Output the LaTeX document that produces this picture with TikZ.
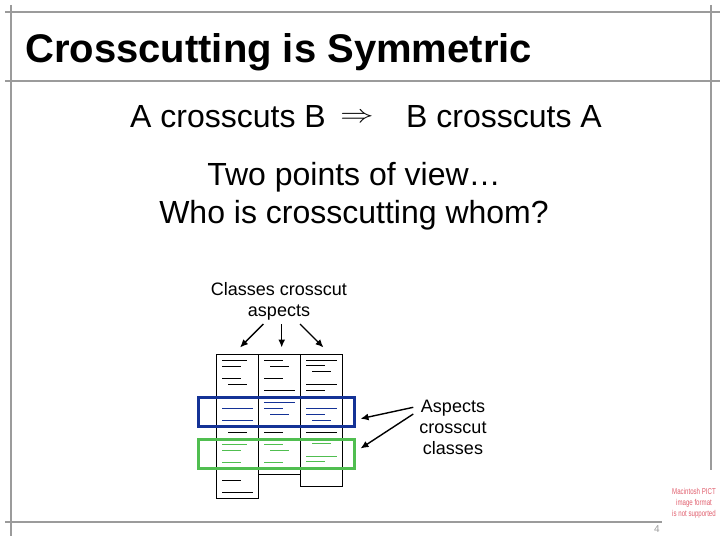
\documentclass[tikz,border=0pt]{standalone}
\usepackage{fontspec}
\setmainfont{Liberation Sans}
\usetikzlibrary{arrows.meta}
\definecolor{framegray}{RGB}{155,155,155}
\definecolor{rowblue}{RGB}{20,50,150}
\definecolor{rowgreen}{RGB}{80,190,80}
\definecolor{pictred}{RGB}{225,95,110}
\tikzset{
  frameline/.style={draw=framegray,line width=2pt},
  colbox/.style={draw=black,line width=0.9pt},
  codeline/.style={line width=0.9pt},
  ptr/.style={line width=1.4pt,-{Latex[length=8pt,width=7pt]}},
  rowbox/.style={line width=3pt},
  lbl/.style={inner sep=0pt,font=\fontsize{18}{21}\selectfont,align=center},
  big/.style={inner sep=0pt,font=\fontsize{32}{38}\selectfont}
}
\begin{document}
\begin{tikzpicture}[x=1pt,y=-1pt]
\useasboundingbox (0,0) rectangle (720,540);
\fill[white] (0,0) rectangle (720,540);
% frame
\draw[frameline] (5,12) -- (720,12);
\draw[frameline] (5,81) -- (720,81);
\draw[frameline] (11,5) -- (11,536);
\draw[frameline] (711,5) -- (711,470);
\draw[frameline] (5,522) -- (662,522);
% title
\node[anchor=base west,inner sep=0pt,font=\fontsize{40}{48}\selectfont\bfseries] (title) at (25,63) {Crosscutting is Symmetric};
% statement
\node[big,anchor=base west] (ab) at (130,128) {A crosscuts B};
\node[inner sep=0pt,font=\fontsize{30}{36}\selectfont] (impl) at (357,117.5) {\scalebox{1.35}[1]{$\Rightarrow$}};
\node[big,anchor=base west] (ba) at (406,128) {B crosscuts A};
\node[big,anchor=base] (two) at (354,186) {Two points of view…};
\node[big,anchor=base] (who) at (354,223) {Who is crosscutting whom?};
% labels
\node[lbl,anchor=base] (cls) at (279,316) {Classes crosscut\\aspects};
\node[lbl,anchor=base] (asp) at (453,454) {Aspects\\crosscut\\classes};
% columns
\draw[colbox] (216.5,354.5) rectangle (258.5,498) coordinate (c1);
\draw[colbox] (258.5,354.5) rectangle (300.5,474.5) coordinate (c2);
\draw[colbox] (300.5,354.5) rectangle (342.5,486) coordinate (c3);
% column 1 lines
\draw[codeline] (222,360.7) -- (247,360.7);
\draw[codeline] (222,366.3) -- (241,366.3);
\draw[codeline] (222,378) -- (241,378);
\draw[codeline] (228,384) -- (247,384);
\draw[codeline,rowblue] (222,408) -- (253,408);
\draw[codeline,rowblue] (222,420) -- (253,420);
\draw[codeline] (228,432.3) -- (247,432.3);
\draw[codeline,rowgreen] (222,444.3) -- (247,444.3);
\draw[codeline,rowgreen] (222,450) -- (241,450);
\draw[codeline,rowgreen] (222,462) -- (241,462);
\draw[codeline] (222,480) -- (241,480);
\draw[codeline] (222,492) -- (253,492);
% column 2 lines
\draw[codeline] (264,360.7) -- (283,360.7);
\draw[codeline] (270,366.3) -- (289,366.3);
\draw[codeline] (264,378) -- (283,378);
\draw[codeline] (264,390) -- (295,390);
\draw[codeline,rowblue] (264,402) -- (295,402);
\draw[codeline,rowblue] (264,408) -- (283,408);
\draw[codeline,rowblue] (270,414) -- (289,414);
\draw[codeline] (264,432.3) -- (283,432.3);
\draw[codeline,rowgreen] (264,444.3) -- (283,444.3);
\draw[codeline,rowgreen] (270,450) -- (289,450);
\draw[codeline,rowgreen] (264,462) -- (283,462);
% column 3 lines
\draw[codeline] (306,360.7) -- (337,360.7);
\draw[codeline] (306,365.3) -- (325,365.3);
\draw[codeline] (312,371.3) -- (331,371.3);
\draw[codeline] (306,384) -- (337,384);
\draw[codeline] (306,390) -- (325,390);
\draw[codeline,rowblue] (306,408) -- (337,408);
\draw[codeline,rowblue] (306,414) -- (325,414);
\draw[codeline,rowblue] (312,420) -- (331,420);
\draw[codeline] (306,432.3) -- (337,432.3);
\draw[codeline,rowgreen] (312,443.3) -- (331,443.3);
\draw[codeline,rowgreen] (306,456) -- (337,456);
\draw[codeline,rowgreen] (306,461.3) -- (325,461.3);
% row boxes
\draw[rowbox,rowblue] (198.5,397.5) rectangle (354.5,426);
\draw[rowbox,rowgreen] (198.5,439) rectangle (354.5,468);
% arrows
\coordinate (t1) at (240,347.5);
\coordinate (t2) at (281.7,347.5);
\coordinate (t3) at (323.5,347.5);
\coordinate (t4) at (360.5,418.7);
\coordinate (t5) at (360.5,448.5);
\draw[ptr] (263.3,324) -- (t1);
\draw[ptr] (281.7,324) -- (t2);
\draw[ptr] (300,324) -- (t3);
\draw[ptr] (413.3,407.3) -- (t4);
\draw[ptr] (413.3,414) -- (t5);
% page number and placeholder
\node[inner sep=0pt,text=framegray,font=\fontsize{10}{12}\selectfont] (pg) at (657,529) {4};
\node[inner sep=0pt,text=pictred,font=\fontsize{8.5}{11}\selectfont,align=center] (pict) at (694,503)
  {\scalebox{0.72}[1]{Macintosh PICT}\\\scalebox{0.72}[1]{image format}\\\scalebox{0.72}[1]{is not supported}};
\end{tikzpicture}
\end{document}
